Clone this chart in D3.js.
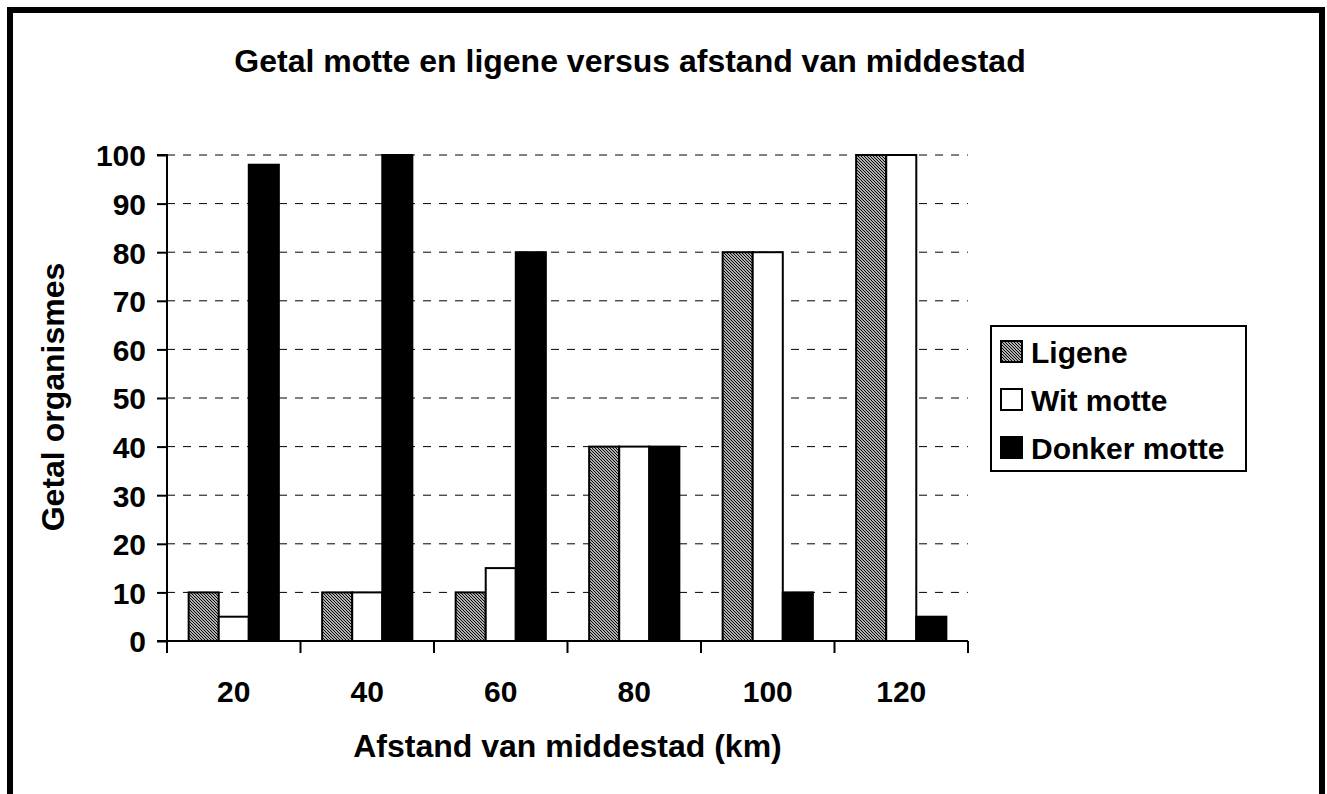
<!DOCTYPE html>
<html><head><meta charset="utf-8">
<script src="https://cdn.jsdelivr.net/npm/d3@7"></script>
<style>body{margin:0;background:#fff}svg{display:block}text{font-family:"Liberation Sans",Arial,sans-serif;font-weight:bold;fill:#000}</style>
</head><body><svg id="c" width="1327" height="794"></svg>
<script>
const categories = ["20","40","60","80","100","120"];
const seriesNames = ["Ligene","Wit motte","Donker motte"];
const ligene = [10,10,10,40,80,100];
const witMotte = [5,10,15,40,80,100];
const donkerMotte = [98,100,80,40,10,5];
const yTicks = [0,10,20,30,40,50,60,70,80,90,100];
const title = "Getal motte en ligene versus afstand van middestad";
const xTitle = "Afstand van middestad (km)";
const yTitle = "Getal organismes";

const series = [ligene, witMotte, donkerMotte];
const fills = ["url(#hatch)","#fff","#000"];
const svg = d3.select("#c");
const defs = svg.append("defs");
const pat = defs.append("pattern").attr("id","hatch").attr("patternUnits","userSpaceOnUse")
  .attr("width",3).attr("height",3);
pat.append("rect").attr("width",3).attr("height",3).attr("fill","#fff");
pat.append("path").attr("d","M-1,-1 L4,4 M-1,2 L1,4 M2,-1 L4,1").attr("stroke","#000").attr("stroke-width",1.2);

// outer border
svg.append("rect").attr("x",10).attr("y",10).attr("width",1312).attr("height",800)
  .attr("fill","none").attr("stroke","#000").attr("stroke-width",6);

const L=167,R=968,T=155,B=641;
const x = d3.scaleBand().domain(categories).range([L,R]).paddingInner(0).paddingOuter(0);
const xs = d3.scaleBand().domain(d3.range(3)).range([0,x.bandwidth()]).paddingInner(0).paddingOuter(0.72);
const y = d3.scaleLinear().domain([0,100]).range([B,T]);

// gridlines
svg.append("g").selectAll("line").data(yTicks.filter(d=>d>0)).join("line")
  .attr("x1",L).attr("x2",R).attr("y1",d=>y(d)).attr("y2",d=>y(d))
  .attr("stroke","#000").attr("stroke-width",1).attr("stroke-dasharray","8,8");

// bars
series.forEach((s,si)=>{
  svg.append("g").selectAll("rect").data(s).join("rect")
    .attr("x",(d,i)=>x(categories[i])+xs(si))
    .attr("y",d=>y(d)).attr("width",xs.bandwidth()).attr("height",d=>B-y(d))
    .attr("fill",fills[si]).attr("stroke","#000").attr("stroke-width",2);
});

// axes
const yAxis = d3.axisLeft(y).tickValues(yTicks).tickSize(10).tickPadding(11);
const gy = svg.append("g").attr("transform",`translate(${L},0)`).call(yAxis);
gy.select(".domain").attr("d",`M-10,${B}H0V${T}H-10`).attr("stroke-width",2);
gy.selectAll(".tick line").attr("stroke-width",2);
gy.selectAll(".tick text").style("font-size","30px").attr("dy","0.36em");

const xAxis = d3.axisBottom(x).tickSize(0).tickPadding(0);
const gx = svg.append("g").attr("transform",`translate(0,${B})`).call(xAxis);
gx.select(".domain").attr("d",`M${L},0H${R}`).attr("stroke-width",2);
gx.selectAll(".tick text").style("font-size","30px").attr("y",61).attr("dy",0);
const bounds = categories.map(c=>x(c)).concat([R]);
gx.append("g").selectAll("line").data(bounds).join("line")
  .attr("x1",d=>d).attr("x2",d=>d).attr("y1",0).attr("y2",12).attr("stroke","#000").attr("stroke-width",2);

// titles
svg.append("text").attr("x",630).attr("y",72).attr("text-anchor","middle").style("font-size","32px").text(title);
svg.append("text").attr("x",(L+R)/2).attr("y",757).attr("text-anchor","middle").style("font-size","32px").text(xTitle);
svg.append("text").attr("transform","translate(64,397) rotate(-90)").attr("text-anchor","middle").style("font-size","32px").text(yTitle);

// legend
const lg = svg.append("g");
lg.append("rect").attr("x",991).attr("y",326).attr("width",255).attr("height",145)
  .attr("fill","#fff").attr("stroke","#000").attr("stroke-width",2);
seriesNames.forEach((n,i)=>{
  const cy = 352 + i*48;
  lg.append("rect").attr("x",1001).attr("y",cy-11).attr("width",21).attr("height",21)
    .attr("fill",fills[i]).attr("stroke","#000").attr("stroke-width",2);
  lg.append("text").attr("x",1031).attr("y",cy+11).style("font-size","30px").text(n);
});
</script></body></html>
